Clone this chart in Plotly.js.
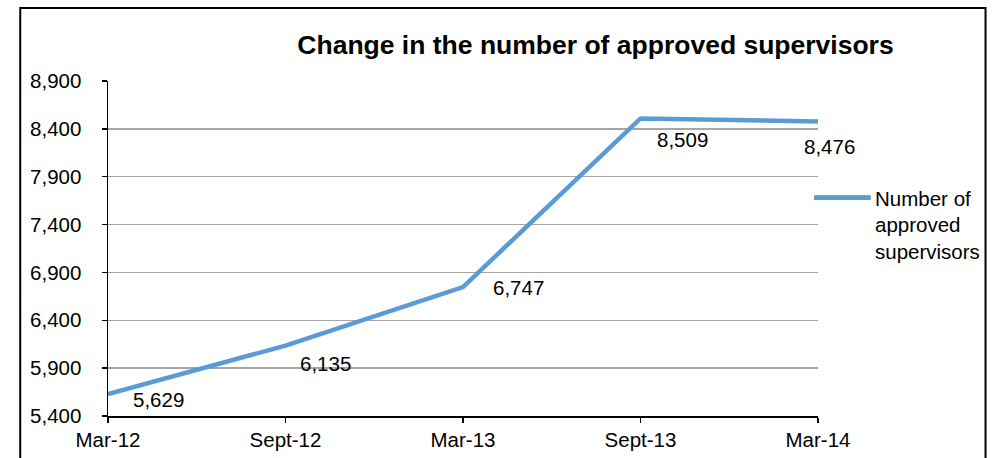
<!DOCTYPE html>
<html>
<head>
<meta charset="utf-8">
<script src="https://cdn.plot.ly/plotly-3.0.1.min.js"></script>
<style>
  html, body { margin: 0; padding: 0; background: #fff; }
  #chart { width: 997px; height: 458px; }
</style>
</head>
<body>
<div id="chart"></div>
<script>
// ---- data ----
const categories = ["Mar-12", "Sept-12", "Mar-13", "Sept-13", "Mar-14"];
const supervisors = [5629, 6135, 6747, 8509, 8476];
const seriesName = "Number of approved supervisors";
const chartTitle = "Change in the number of approved supervisors";
const yTicks = [5400, 5900, 6400, 6900, 7400, 7900, 8400, 8900];

// ---- styling ----
const FONT = "Arial, 'Liberation Sans', sans-serif";
const lineColor = "#5B9BD5";
// pixel offsets of each data label from its point (style only)
const labelShift = [[50, -5.5], [39.5, -18], [55, -0.5], [42, -21], [11.5, -25]];

const trace = {
  x: categories,
  y: supervisors,
  type: "scatter",
  mode: "lines",
  name: "Number of<br>approved<br>supervisors",
  line: { color: lineColor, width: 4.5 },
  hoverinfo: "x+y"
};

const annotations = supervisors.map((v, i) => ({
  x: categories[i],
  y: v,
  xref: "x",
  yref: "y",
  text: v.toLocaleString("en-US"),
  showarrow: false,
  xanchor: "center",
  yanchor: "middle",
  xshift: labelShift[i][0],
  yshift: labelShift[i][1],
  font: { family: FONT, size: 20.5, color: "#000" }
}));

// plot area in pixels: left 108, right 820, top 81, bottom 416
const L = 108, R = 820, T = 81, B = 416;
const W = R - L, H = B - T;
const px2x = p => (p - L) / W;
const py2y = p => (B - p) / H;

const layout = {
  width: 997,
  height: 458,
  margin: { l: L, r: 997 - R, t: T, b: 458 - B, pad: 0 },
  paper_bgcolor: "#ffffff",
  plot_bgcolor: "#ffffff",
  font: { family: FONT, size: 20.5, color: "#000" },
  title: {
    text: "<b>" + chartTitle + "</b>",
    font: { family: FONT, size: 26.5, color: "#000" },
    xref: "container",
    yref: "container",
    x: 595.5 / 997,
    xanchor: "center",
    y: 1 - 45 / 458,
    yanchor: "middle"
  },
  xaxis: {
    type: "category",
    range: [0, categories.length - 1],
    showgrid: false,
    zeroline: false,
    showline: true,
    linecolor: "#000",
    linewidth: 1.5,
    ticks: "outside",
    ticklen: 5,
    tickwidth: 1.5,
    tickcolor: "#000",
    tickfont: { family: FONT, size: 20.5, color: "#000" },
    fixedrange: true
  },
  yaxis: {
    range: [yTicks[0], yTicks[yTicks.length - 1]],
    tickvals: yTicks,
    tickformat: ",d",
    showgrid: true,
    gridcolor: "#A6A6A6",
    gridwidth: 1.3,
    zeroline: false,
    showline: true,
    linecolor: "#000",
    linewidth: 1.5,
    ticks: "outside",
    ticklen: 5,
    tickwidth: 1.5,
    tickcolor: "#000",
    ticklabelstandoff: 16,
    tickfont: { family: FONT, size: 20.5, color: "#000" },
    fixedrange: true
  },
  showlegend: true,
  legend: {
    x: px2x(811),
    xanchor: "left",
    y: py2y(178),
    yanchor: "top",
    valign: "top",
    bgcolor: "rgba(0,0,0,0)",
    borderwidth: 0,
    font: { family: FONT, size: 20.5, color: "#000" },
    itemwidth: 56
  },
  annotations: annotations,
  shapes: [{
    type: "rect",
    xref: "paper",
    yref: "paper",
    x0: px2x(20),
    x1: px2x(988),
    y0: py2y(480),
    y1: py2y(8),
    line: { color: "#000", width: 2 },
    fillcolor: "rgba(0,0,0,0)",
    layer: "above"
  }, {
    // extends the legend key line to the reference's longer sample
    type: "line",
    xref: "paper",
    yref: "paper",
    x0: px2x(817),
    x1: px2x(873),
    y0: py2y(197.5),
    y1: py2y(197.5),
    line: { color: lineColor, width: 4.5 },
    layer: "above"
  }]
};

Plotly.newPlot("chart", [trace], layout, { displayModeBar: false, staticPlot: true });
</script>
</body>
</html>
